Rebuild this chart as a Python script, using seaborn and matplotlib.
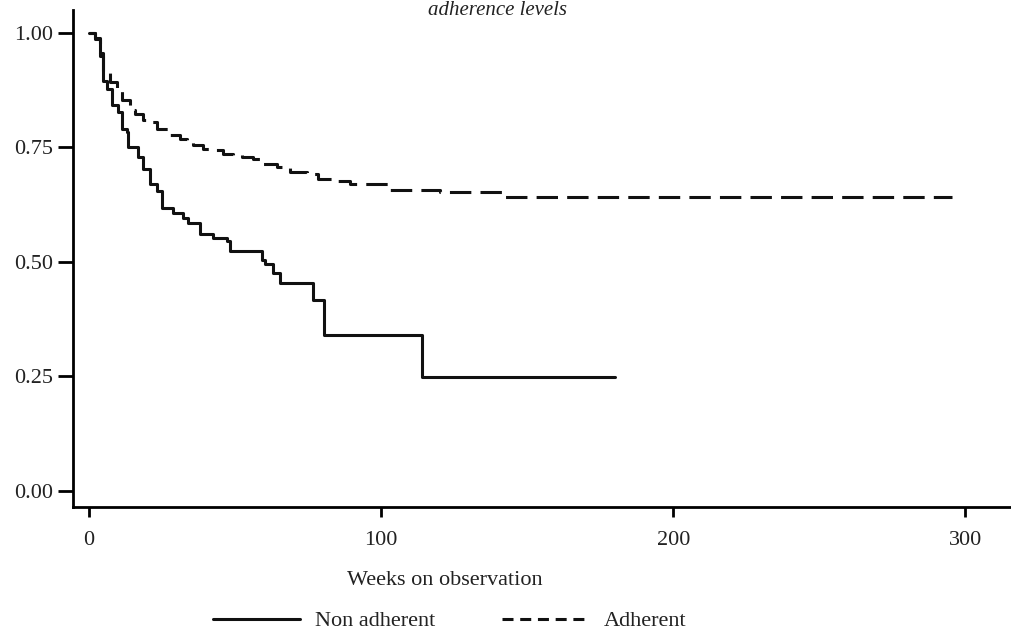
import pandas as pd
import seaborn as sns
import matplotlib.pyplot as plt
from matplotlib.lines import Line2D

# Kaplan-Meier style step data
non_adh_weeks = [0, 2.1, 3.8, 4.8, 6.2, 7.9, 9.9, 11.3, 13.0, 13.4, 16.8, 18.5, 20.9,
                 23.3, 25.0, 28.8, 32.2, 33.9, 38.0, 42.5, 47.3, 48.3, 59.2, 60.3,
                 63.0, 65.4, 76.7, 80.5, 114.0, 180.1]
non_adh_surv = [1.0, 0.989, 0.950, 0.895, 0.877, 0.842, 0.827, 0.790, 0.784, 0.751,
                0.729, 0.703, 0.669, 0.654, 0.617, 0.606, 0.595, 0.584, 0.561, 0.552,
                0.545, 0.524, 0.504, 0.496, 0.476, 0.455, 0.416, 0.340, 0.249, 0.249]

adh_weeks = [0, 2.05, 3.77, 4.79, 7.19, 9.59, 11.3, 14.04, 15.75, 18.49, 20.89, 23.29,
             27.74, 31.16, 33.56, 35.62, 39.04, 42.47, 45.89, 49.32, 52.4, 56.16,
             59.59, 64.38, 68.84, 74.66, 78.42, 83.56, 89.38, 96.23, 103.08, 109.93,
             120.21, 141.4, 295.6]
adh_surv = [1.0, 0.987, 0.957, 0.913, 0.892, 0.877, 0.853, 0.831, 0.823, 0.810, 0.805,
            0.790, 0.777, 0.768, 0.762, 0.755, 0.746, 0.745, 0.736, 0.734, 0.729,
            0.725, 0.714, 0.708, 0.697, 0.693, 0.682, 0.677, 0.671, 0.669, 0.658,
            0.656, 0.652, 0.641, 0.641]

groups = ['Non adherent', 'Adherent']
x_ticks = [0, 100, 200, 300]
y_ticks = [0.00, 0.25, 0.50, 0.75, 1.00]
y_labels = ['0.00', '0.25', '0.50', '0.75', '1.00']

df = pd.concat([
    pd.DataFrame({'Weeks': non_adh_weeks, 'Survival': non_adh_surv, 'Group': groups[0]}),
    pd.DataFrame({'Weeks': adh_weeks, 'Survival': adh_surv, 'Group': groups[1]}),
])

sns.set_style('ticks')
plt.rcParams['font.family'] = ['Liberation Serif', 'DejaVu Serif']

fig = plt.figure(figsize=(10.12, 6.39), dpi=100)
ax = fig.add_axes([0.0721, 0.2066, 0.9279, 0.7778])

sns.lineplot(data=df, x='Weeks', y='Survival', hue='Group', style='Group',
             hue_order=groups, style_order=groups,
             palette={groups[0]: '#111111', groups[1]: '#111111'},
             dashes={groups[0]: '', groups[1]: (7, 3)},
             estimator=None, drawstyle='steps-post', linewidth=2.2,
             legend=False, ax=ax)

ax.set_xlim(-5.5, 316)
ax.set_ylim(-0.035, 1.05)
ax.set_xticks(x_ticks)
ax.set_yticks(y_ticks)
ax.set_yticklabels(y_labels)

for side in ['top', 'right']:
    ax.spines[side].set_visible(False)
for side in ['left', 'bottom']:
    ax.spines[side].set_linewidth(2.0)
    ax.spines[side].set_color('black')

ax.tick_params(axis='y', direction='out', length=11, width=2, pad=3,
               labelsize=16, colors='black', labelcolor='#222222')
ax.tick_params(axis='x', direction='out', length=7, width=2, pad=10,
               labelsize=16, colors='black', labelcolor='#222222')

ax.set_ylabel('')
ax.set_xlabel('Weeks on observation', fontsize=16, color='#222222')
ax.xaxis.set_label_coords(0.396, -0.128)

# title sits at the very top edge, as in the original
fig.text(0.492, 0.976, 'adherence levels', style='italic', ha='center',
         va='baseline', fontsize=15, color='#222222')

# legend uses shorter dashes than the curve, like the original
handles = [Line2D([], [], color='#111111', lw=2.2),
           Line2D([], [], color='#111111', lw=2.2, dashes=(3.6, 2.2))]
fig.legend(handles, groups, loc='center left', bbox_to_anchor=(0.2105, 0.028),
           ncol=2, frameon=False, borderpad=0, borderaxespad=0,
           handlelength=3.9, handletextpad=0.68, columnspacing=3.0,
           fontsize=16, labelcolor='#222222')

fig.savefig('out.png', dpi=100)
